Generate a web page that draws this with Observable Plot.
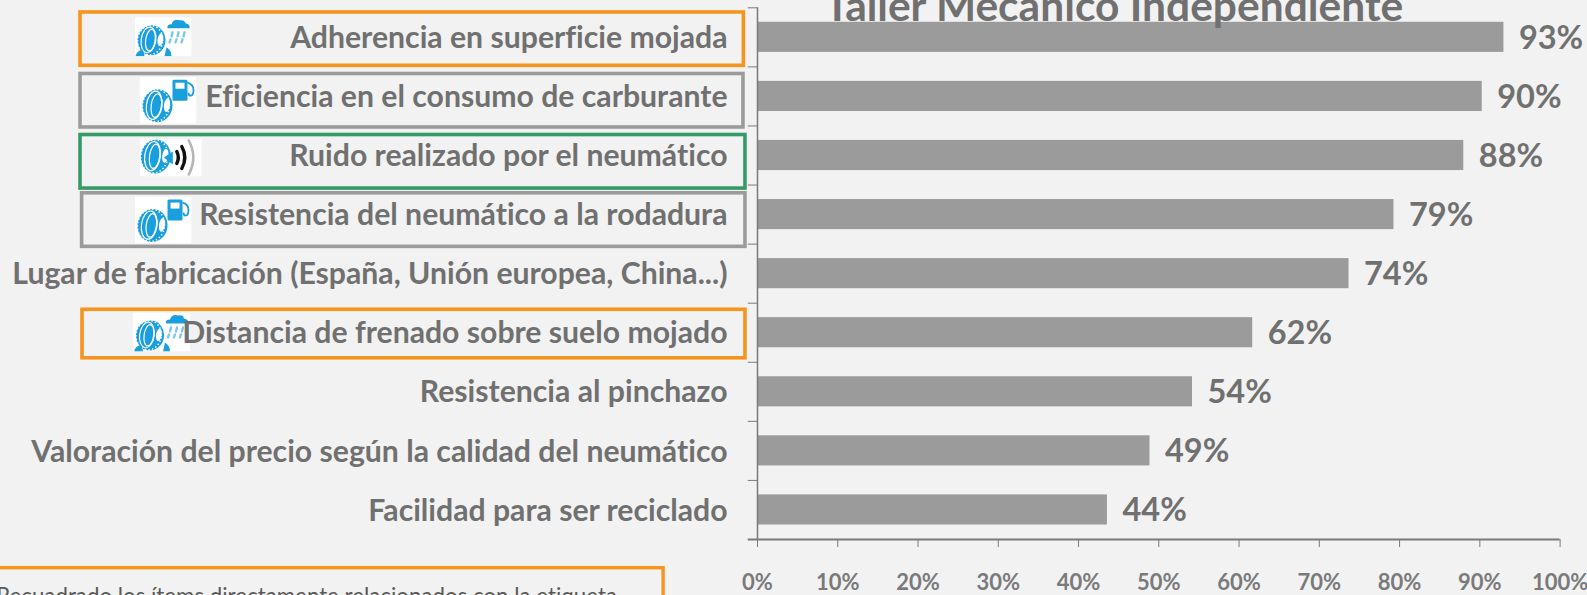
<!DOCTYPE html>
<html><head><meta charset="utf-8">
<script src="https://cdn.jsdelivr.net/npm/d3@7"></script>
<script src="https://cdn.jsdelivr.net/npm/@observablehq/plot@0.6"></script>
<style>html,body{margin:0;padding:0;background:#f2f2f2;overflow:hidden}svg{display:block}svg text{font-variant-ligatures:none}</style>
</head><body><div id="chart"></div>
<script>
const categories = ["Adherencia en superficie mojada","Eficiencia en el consumo de carburante","Ruido realizado por el neumático","Resistencia del neumático a la rodadura","Lugar de fabricación (España, Unión europea, China...)","Distancia de frenado sobre suelo mojado","Resistencia al pinchazo","Valoración del precio según la calidad del neumático","Facilidad para ser reciclado"];
const values = [93,90.3,88,79.3,73.7,61.7,54.2,48.9,43.6];
const valueLabels = ["93%","90%","88%","79%","74%","62%","54%","49%","44%"];
const xTicks = [0,10,20,30,40,50,60,70,80,90,100];
const title = "Taller Mecánico Independiente";
const footnote = "Recuadrado los ítems directamente relacionados con la etiqueta";
const rows = categories.map((c,i)=>({c,v:values[i],l:valueLabels[i]}));

const FONT = "Lato, sans-serif", GRAY = "#707070", AXIS = "#7a7a7a", BLUE = "#1a9fde";
const ORANGE = "#f7941d", SILVER = "#9b9b9b", GREEN = "#359a68";

const boxes = [
 {c:categories[0],x1:-84.35,x2:-1.7,stroke:ORANGE,t:-9.8,b:-13.4},
 {c:categories[1],x1:-84.35,x2:-1.75,stroke:SILVER,t:-7.35,b:-16},
 {c:categories[2],x1:-84.35,x2:-1.5,stroke:GREEN,t:-5.4,b:-18},
 {c:categories[3],x1:-84.15,x2:-1.5,stroke:SILVER,t:-6.2,b:-17.2},
 {c:categories[5],x1:-84.1,x2:-1.5,stroke:ORANGE,t:-7.9,b:-10.5}
];

function tyre(cx,cy,rx,ry){
  let s=`<g transform="rotate(8 ${cx} ${cy})">`;
  s+=`<ellipse cx="${cx}" cy="${cy}" rx="${rx}" ry="${ry}" fill="${BLUE}"/>`;
  s+=`<ellipse cx="${cx-rx*.1}" cy="${cy}" rx="${rx*.9}" ry="${ry*.98}" fill="none" stroke="#fff" stroke-width="1.5" stroke-dasharray="1.4 2.2"/>`;
  s+=`<ellipse cx="${cx-rx*.22}" cy="${cy}" rx="${rx*.52}" ry="${ry*.86}" fill="none" stroke="#fff" stroke-width="1.2"/>`;
  s+=`<ellipse cx="${cx-rx*.08}" cy="${cy}" rx="${rx*.34}" ry="${ry*.72}" fill="none" stroke="#fff" stroke-width="1.2"/>`;
  s+=`<ellipse cx="${cx+rx*.62}" cy="${cy-ry*.12}" rx="${rx*.2}" ry="${ry*.42}" fill="#fff"/></g>`;
  return s;
}
const rain = (w,h)=>`<rect width="${w}" height="${h}" fill="#fff"/>`+tyre(17,23,14,15)+
 `<path d="M33 11 q-1-4 4-4 q2-6 8-4 q5-1 6 3 q5 1 4 5 z" fill="${BLUE}"/>`+
 `<g stroke="#7cc8ec" stroke-width="2.4" stroke-linecap="round"><path d="M38 15l-1 4M44 15l-1 4M50 15l-1 4M36 22l-1 3M42 22l-1 3M48 22l-1 3"/></g>`+
 `<path d="M1 ${h} q1-5 7-7 q2 4 2 7z M32 ${h-9} q5 3 5 9 h-7z" fill="${BLUE}"/>`;
const fuel = (w,h)=>`<rect width="${w}" height="${h}" fill="#fff"/>`+tyre(18,h-18,15,16.5)+
 `<rect x="33" y="3" width="15" height="21" rx="1.5" fill="${BLUE}"/><rect x="36" y="6" width="9" height="6" fill="#fff"/>`+
 `<path d="M48 6 q6 2 6 7 q0 6-3 6 q-2 0-2-3" fill="none" stroke="${BLUE}" stroke-width="1.8"/>`;
const noise = (w,h)=>`<rect width="${w}" height="${h}" fill="#fff"/>`+tyre(16,18,15,17)+
 `<path d="M24 19 l9-6 v13z" fill="${BLUE}"/>`+
 `<g fill="none" stroke-linecap="round"><path d="M37 13 q3 6 0 12" stroke="#111" stroke-width="3.4"/><path d="M42 8 q6 11 0 22" stroke="#111" stroke-width="3.4"/><path d="M49 2 q9 17 0 34" stroke="#b5b5b5" stroke-width="2.6"/></g>`;
const uri = (w,h,body)=>"data:image/svg+xml,"+encodeURIComponent(`<svg xmlns="http://www.w3.org/2000/svg" viewBox="0 0 ${w} ${h}" width="${w}" height="${h}">${body}</svg>`);

const icons = [
 {c:categories[0],x:-74.07,w:57,h:39,dy:-0.5,src:uri(57,39,rain(57,39))},
 {c:categories[1],x:-73.45,w:57,h:47,dy:3.8,src:uri(57,47,fuel(57,47))},
 {c:categories[2],x:-73.1,w:62,h:38,dy:2,src:uri(62,38,noise(62,38))},
 {c:categories[3],x:-74.07,w:57,h:47,dy:5.5,src:uri(57,47,fuel(57,47))},
 {c:categories[5],x:-74.26,w:57,h:39,dy:-0.8,src:uri(57,39,rain(57,39))}
];
const STEP = (539-7.3)/9;

const chart = Plot.plot({
  width:1587,height:595,marginLeft:757,marginRight:27.4,marginTop:7.3,marginBottom:56,
  style:{background:"#f2f2f2",fontFamily:FONT,overflow:"hidden"},
  x:{domain:[0,100]},
  y:{domain:categories,paddingInner:0.49,paddingOuter:0.245,round:false,label:null},
  marks:[
    Plot.rect([0],{x1:()=>-100,x2:()=>-11.7,insetTop:560.4,insetBottom:-100,fill:"none",stroke:ORANGE,strokeWidth:3.4}),
    Plot.text([footnote],{x:()=>-94.85,frameAnchor:"bottom",text:d=>d,textAnchor:"start",lineAnchor:"middle",dy:57,fontSize:22.3,fill:"#595959",fontFamily:FONT}),
    ...icons.map(d=>Plot.image([d],{x:"x",y:"c",src:"src",width:d.w,height:d.h,dy:d.dy,preserveAspectRatio:"none"})),
    ...boxes.map(d=>Plot.rect([d],{x1:"x1",x2:"x2",y:"c",insetTop:d.t,insetBottom:d.b,fill:"none",stroke:"stroke",strokeWidth:3.6})),
    Plot.barX(rows,{x:"v",y:"c",fill:"#9b9b9b"}),
    Plot.ruleX([0],{stroke:AXIS,strokeWidth:1.5}),
    Plot.ruleY(categories,{y:d=>d,x1:()=>-1.15,x2:()=>0,dy:-STEP/2,stroke:AXIS,strokeWidth:1}),
    Plot.ruleY(categories.slice(-1),{y:d=>d,x1:()=>-1.15,x2:()=>100,dy:STEP/2,stroke:AXIS,strokeWidth:2}),
    Plot.axisX({ticks:xTicks,tickFormat:d=>d+"%",tickSize:8,tickPadding:27,fontSize:22,fontWeight:700,color:AXIS,label:null,anchor:"bottom"}),
    Plot.axisY({anchor:"left",tickSize:0,tickPadding:30,dy:1,fontSize:30.2,fontWeight:700,color:GRAY,stroke:"none",label:null,lineWidth:Infinity,textOverflow:null}),
    Plot.text(rows,{x:"v",y:"c",text:"l",textAnchor:"start",dx:15,dy:1,fontSize:32.5,fontWeight:700,fill:GRAY,fontFamily:FONT}),
    Plot.text([title],{x:()=>44.4,frameAnchor:"top",text:d=>d,lineAnchor:"bottom",dy:13,fontSize:42.5,fontWeight:700,fill:GRAY,fontFamily:FONT})
  ]
});
document.getElementById("chart").appendChild(chart);
</script></body></html>
